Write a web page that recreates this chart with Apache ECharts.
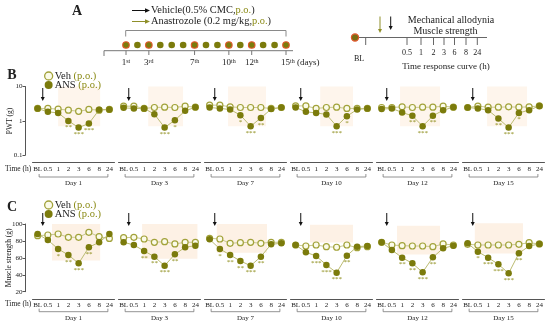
<!DOCTYPE html>
<html><head><meta charset="utf-8">
<script src="https://cdn.jsdelivr.net/npm/echarts@6/dist/echarts.min.js"></script>
<style>html,body{margin:0;padding:0;background:#fff}#c{width:550px;height:326px}</style>
</head><body><div id="c"></div>
<script>
const hours = ['BL','0.5','1','2','3','6','8','24'];
const dayNames = ['Day 1','Day 3','Day 7','Day 10','Day 12','Day 15'];
const pwtVeh = [
 [2.3,2.3,2.2,2.05,1.9,2.15,2.05,2.15],
 [2.68,2.68,2.3,2.45,2.5,2.45,2.68,2.5],
 [2.87,2.87,2.56,2.45,2.45,2.45,2.3,2.45],
 [2.73,2.73,2.3,2.45,2.5,2.3,2.3,2.3],
 [2.45,2.45,2.56,2.45,2.5,2.5,2.68,2.5],
 [2.45,2.68,2.5,2.5,2.56,2.5,2.56,2.73]
];
const pwtAns = [
 [2.3,1.83,1.71,1.0,0.64,0.84,2.1,2.15],
 [2.4,2.3,2.3,1.57,0.64,1.05,1.96,2.5],
 [2.46,2.3,2.15,1.47,0.7,1.22,2.2,2.45],
 [2.46,1.83,1.71,1.54,0.7,1.37,2.15,2.3],
 [2.2,2.3,1.76,1.4,0.7,1.4,2.05,2.5],
 [2.45,2.3,2.05,1.17,0.64,1.71,2.05,2.73]
];
const pwtStars = [
 ['','','','**','***','***','',''],
 ['','','','','***','*','',''],
 ['','','','*','***','**','',''],
 ['','','','','***','*','',''],
 ['','','','**','***','**','',''],
 ['','','','**','***','*','','']
];
const strVeh = [
 [86.2,87,88.2,84.3,84.3,90.2,85,83],
 [83.8,84.3,82.3,78.4,79.1,76.4,78.4,78.4],
 [83.1,82.3,77.2,77.9,78.4,77.2,78.4,78.4],
 [75.2,74,75.2,73.2,72.5,75.2,72,73.2],
 [78.4,75.2,74.4,74,74,73.2,76.4,75.2],
 [76,75.2,75.2,75.2,75.2,76,77.9,76.4]
];
const strAns = [
 [88.2,81,70.5,63.4,53.5,72.5,78.4,88.2],
 [78.4,75.2,68.1,61.4,50.7,64.2,72.5,74.4],
 [81.9,70.5,63.4,56.3,50.7,61.4,76,77.2],
 [75.2,66.6,62.2,51.6,42.5,62.6,73.2,74],
 [78.4,69.3,60.2,53.5,43,60.6,71.3,74.4],
 [77.2,67.3,60.2,52.4,41.7,65.4,74,76.4]
];
const strStars = [
 ['','','*','**','***','**','',''],
 ['','','**','**','***','**','',''],
 ['','*','**','**','***','**','',''],
 ['','','***','***','***','**','',''],
 ['','','**','**','***','**','',''],
 ['','*','***','***','***','**','','']
];
// shaded windows: [fromIndex, toIndex, topValue, bottomValue]
const pwtShade = [[2.0,6.1,10,0.7],[2.4,5.8,10,0.7],[1.8,5.5,10,0.7],[2.4,5.6,10,0.7],[1.8,5.7,10,0.7],[1.9,5.8,10,0.7]];
const strShade = [[1.4,6.1,100,57],[1.8,7.2,100,59],[0.7,5.6,100,66],[1.4,5.6,99,78],[1.5,5.7,98,64],[0.7,5.4,101,65]];
const treatDays = [1,3,7,10,12,15];
const totalDays = 15;
const curveLabels = ['0.5','1','2','3','6','8','24'];

const SERIF = "'Liberation Serif','DejaVu Serif',serif";
const OLIVE = '#7b7b0c', OLIVE_T = '#8a8a14', RING = '#e2572c', DARK = '#222', AX = '#555';
const GL = [32.5,118.5,204.5,290.5,376.5,462.5], GW = 82;
const rows = [
 {top:86.5,height:68.8,xoff:7.4,veh:pwtVeh,ans:pwtAns,stars:pwtStars,shade:pwtShade,shadeColor:'#fef5ec',name:'PWT (g)',
  y:{type:'log',logBase:10,min:0.1,max:10}, arrow:[88,101], brk:177, lab:169.3, legTop:65.5},
 {top:224,height:67.7,xoff:7.6,veh:strVeh,ans:strAns,stars:strStars,shade:strShade,shadeColor:'#fdf1e5',name:'Muscle strength (g)',
  y:{type:'value',min:20,max:100,interval:20}, arrow:[213,226], brk:311.7, lab:304, legTop:194.5}
];

const chart = echarts.init(document.getElementById('c'), null, {renderer:'canvas'});
const grid=[], xAxis=[], yAxis=[], series=[];
rows.forEach((r,ri)=>{
  for(let p=0;p<6;p++){
    const g = ri*6+p;
    grid.push({left:GL[p],top:r.top,width:GW,height:r.height,outerBoundsMode:'none',containLabel:false});
    xAxis.push({type:'category',gridIndex:g,data:hours,offset:r.xoff,
      axisLine:{lineStyle:{color:AX,width:1}},
      axisTick:{alignWithLabel:true,length:2.5,lineStyle:{color:AX}},
      axisLabel:{fontSize:7,color:DARK,margin:2.5,interval:0,fontFamily:SERIF},
      splitLine:{show:false}});
    const y = Object.assign({gridIndex:g,offset:7.5,show:p===0,
      axisLine:{show:true,lineStyle:{color:AX,width:1}},
      axisTick:{show:true,length:2.5,lineStyle:{color:AX}},
      axisLabel:{fontSize:7,color:DARK,margin:2.5,fontFamily:SERIF},
      splitLine:{show:false},
      name:p===0?r.name:'',nameLocation:'middle',nameGap:ri===0?11:12,nameMoveOverlap:false,
      nameTextStyle:{fontSize:7.5,color:DARK,fontFamily:SERIF}}, r.y);
    yAxis.push(y);
    series.push({type:'line',name:'Veh',xAxisIndex:g,yAxisIndex:g,data:r.veh[p],
      symbol:'circle',symbolSize:6,silent:true,z:3,
      itemStyle:{color:'#fbfbe9',borderColor:'#a2a23a',borderWidth:1.2},
      lineStyle:{color:'#c8c890',width:1}});
    const st = r.stars[p];
    series.push({type:'line',name:'ANS',xAxisIndex:g,yAxisIndex:g,data:r.ans[p],
      symbol:'circle',symbolSize:6.5,silent:true,z:4,
      itemStyle:{color:OLIVE},
      lineStyle:{color:'#bcbc72',width:1},
      label:{show:true,position:'bottom',distance:0,formatter:(q)=>st[q.dataIndex],
        color:OLIVE_T,fontSize:7,fontFamily:SERIF}});
  }
});

const legendBase = (top)=>({orient:'vertical',left:39,top:top,itemWidth:8,itemHeight:8,itemGap:-2,
  selectedMode:false,
  data:[{name:'Veh',icon:'circle',itemStyle:{color:'#fbfbe9',borderColor:'#a2a23a',borderWidth:1.3}},
        {name:'ANS',icon:'circle',itemStyle:{color:OLIVE}}],
  formatter:(n)=>'{a|'+n+'} {b|(p.o.)}',
  textStyle:{fontFamily:SERIF,fontSize:10.5,color:DARK,padding:[0,0,0,-3],
    rich:{a:{fontFamily:SERIF,fontSize:10.5,color:DARK},b:{fontFamily:SERIF,fontSize:10.5,color:OLIVE_T}}}});

chart.setOption({animation:false,backgroundColor:'#fff',grid,xAxis,yAxis,series,
  legend:rows.map(r=>legendBase(r.legTop))});

// ---------- annotations ----------
const G = [];
const txt = (x,y,text,o)=>G.push(Object.assign({type:'text',x,y,silent:true,
  style:Object.assign({text,fill:DARK,font:'10px '+SERIF,align:'center',verticalAlign:'middle'},o||{})}));
const line = (x1,y1,x2,y2,c,w,z)=>G.push({type:'line',silent:true,z:z||5,shape:{x1,y1,x2,y2},style:{stroke:c,lineWidth:w||1}});
const poly = (pts,c)=>G.push({type:'polygon',silent:true,z:5,shape:{points:pts},style:{fill:c}});
const downArrow=(x,y1,y2,c)=>{line(x,y1,x,y2-3,c,1);poly([[x-2,y2-4],[x+2,y2-4],[x,y2]],c);};
const rightArrow=(x1,x2,y,c)=>{line(x1,y,x2-4,y,c,1);poly([[x2-5,y-2.2],[x2-5,y+2.2],[x2,y]],c);};

rows.forEach((r,ri)=>{
  for(let p=0;p<6;p++){
    const g=ri*6+p;
    const cp=(i,v)=>{const a=chart.convertToPixel({gridIndex:g},[0,v]);const b=chart.convertToPixel({gridIndex:g},[1,v]);return [a[0]+(b[0]-a[0])*i,a[1]];};
    const s=r.shade[p];
    const t=cp(s[0],s[2]), b=cp(s[1],s[3]);
    G.push({type:'rect',silent:true,z:-1,shape:{x:t[0],y:t[1],width:b[0]-t[0],height:b[1]-t[1]},style:{fill:r.shadeColor}});
    const x0=cp(0,s[2])[0], x1=cp(1,s[2])[0], x7=cp(7,s[2])[0];
    downArrow((x0+x1)/2, r.arrow[0], r.arrow[1], '#111');
    G.push({type:'polyline',silent:true,shape:{points:[[x0+1.5,r.brk-3],[x0+1.5,r.brk],[x7-1.5,r.brk],[x7-1.5,r.brk-3]]},style:{stroke:'#777',lineWidth:0.8,fill:null}});
    txt((x0+x7)/2, r.brk+6.3, dayNames[p], {font:'7px '+SERIF});
  }
  txt(5, r.lab, 'Time (h)', {font:'7.5px '+SERIF, align:'left'});
});
txt(12,75,'B',{font:'bold 14px '+SERIF});
txt(12,207,'C',{font:'bold 14px '+SERIF});

// Panel A
txt(77,11,'A',{font:'bold 14px '+SERIF});
const rich = {a:{font:'10.4px '+SERIF,fill:DARK},b:{font:'10.4px '+SERIF,fill:OLIVE_T}};
rightArrow(132,150,10.5,'#111');
txt(151,10.5,'{a|Vehicle(0.5% CMC,}{b|p.o.}{a|)}',{align:'left',rich});
rightArrow(132,150,21.5,'#8f8f2a');
txt(151,21.5,'{a|Anastrozole (0.2 mg/kg,}{b|p.o.}{a|)}',{align:'left',rich});
G.push({type:'polyline',silent:true,shape:{points:[[125.7,36.5],[125.7,30.5],[286,30.5],[286,36.5]]},style:{stroke:'#8a8a8a',lineWidth:1,fill:null}});
line(104,50.7,293,50.7,'#777',1);
line(104,50.7,104,56,'#777',1);
const dx=(286-126)/(totalDays-1);
const sup = {n:{font:'9px '+SERIF,fill:DARK},s:{font:'6px '+SERIF,fill:DARK,verticalAlign:'top',padding:[0,0,4,0]}};
for(let d=1; d<=totalDays; d++){
  const x=126+(d-1)*dx, tr=treatDays.includes(d);
  G.push({type:'circle',silent:true,z:6,shape:{cx:x,cy:45,r:3.3},style:{fill:OLIVE,stroke:tr?RING:null,lineWidth:tr?1.1:0}});
  if(tr){
    line(x,50.7,x,55,'#777',1);
    const suf = d===1?'st':(d===3?'rd':'th');
    if(d===15) txt(x-5,63,'{n|15}{s|th}{n| (days)}',{align:'left',rich:sup});
    else txt(x,63,'{n|'+d+'}{s|'+suf+'}',{rich:sup});
  }
}
// right schematic
G.push({type:'circle',silent:true,z:6,shape:{cx:355,cy:37.5,r:3.6},style:{fill:'#7a6c12',stroke:RING,lineWidth:1.2}});
line(358,37.5,487,37.5,'#666',1);
const tx=[407,421,433.5,444,454.5,466,477.3];
line(365.7,37.5,365.7,45,'#666',1);
tx.forEach((x,i)=>{line(x,37.5,x,45,'#666',1);txt(x,52.5,curveLabels[i],{font:'8px '+SERIF});});
txt(359,58.5,'BL',{font:'8px '+SERIF});
txt(446,67,'Time response curve (h)',{font:'9px '+SERIF});
downArrow(380,16.5,33,'#8f8f2a');
downArrow(390.7,16.5,30,'#111');
txt(451,20,'Mechanical allodynia',{font:'10px '+SERIF});
txt(445.5,31,'Muscle strength',{font:'10px '+SERIF});

chart.setOption({graphic:{elements:G}});
</script></body></html>
